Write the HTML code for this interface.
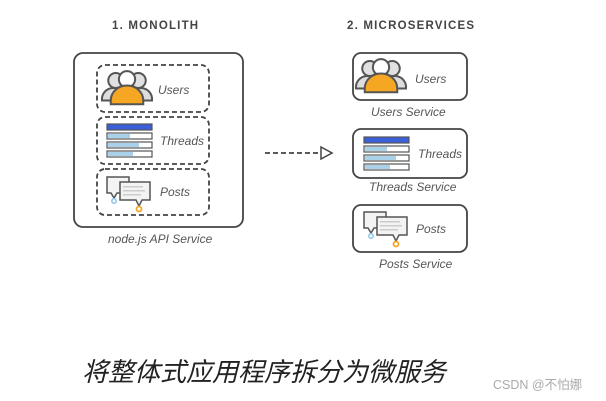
<!DOCTYPE html>
<html><head><meta charset="utf-8"><style>
html,body{margin:0;padding:0;background:#fff;width:606px;height:401px;overflow:hidden}
svg{display:block}
.t{font-family:"Liberation Sans",sans-serif;font-weight:bold;font-size:11.5px;fill:#444;letter-spacing:1.2px}
.l{font-family:"Liberation Sans",sans-serif;font-style:italic;font-size:12px;fill:#555}
</style></head><body>
<svg width="606" height="401" viewBox="0 0 606 401" xmlns="http://www.w3.org/2000/svg">
<defs>
<g id="users" transform="scale(1.25)">
 <circle cx="-9" cy="-6" r="6" fill="#e0e0e0" stroke="#555" stroke-width="1.6"/>
 <circle cx="9" cy="-6" r="6" fill="#e0e0e0" stroke="#555" stroke-width="1.6"/>
 <path d="M-20 10 a9 9 0 0 1 9-10 h0 a9 9 0 0 1 9 10 z" fill="#ddd" stroke="#555" stroke-width="1.6"/>
 <path d="M2 10 a9 9 0 0 1 9-10 a9 9 0 0 1 9 10 z" fill="#ddd" stroke="#555" stroke-width="1.6"/>
 <circle cx="0" cy="-7" r="6.5" fill="#fff" stroke="#555" stroke-width="1.6"/>
 <path d="M-13 13 v-3 a13 12 0 0 1 26 0 v3 z" fill="#f5a623" stroke="#555" stroke-width="1.6"/>
</g>
<g id="threads">
 <rect x="0" y="0" width="45" height="6" fill="#3b5fd9" stroke="#555" stroke-width="1.2"/>
 <rect x="0" y="9" width="45" height="6" fill="#fff" stroke="#555" stroke-width="1.2"/>
 <rect x="1" y="10" width="22" height="4" fill="#a9d2ea"/>
 <rect x="0" y="18" width="45" height="6" fill="#fff" stroke="#555" stroke-width="1.2"/>
 <rect x="1" y="19" width="31" height="4" fill="#a9d2ea"/>
 <rect x="0" y="27" width="45" height="6" fill="#fff" stroke="#555" stroke-width="1.2"/>
 <rect x="1" y="28" width="25" height="4" fill="#a9d2ea"/>
</g>
<g id="posts">
 <path d="M0 0 h22 v16 h-12 l-3 5 l-3 -5 h-4 z" fill="#f3f3f3" stroke="#555" stroke-width="1.5"/>
 <circle cx="7" cy="24" r="2.2" fill="#fff" stroke="#8cc4ea" stroke-width="1.5"/>
 <path d="M13 5 h30 v18 h-8 l-3 6 l-3 -6 h-16 z" fill="#f3f3f3" stroke="#555" stroke-width="1.5"/>
 <rect x="16" y="9" width="20" height="1.5" fill="#ccc"/><rect x="16" y="13" width="22" height="1.5" fill="#ccc"/><rect x="16" y="17" width="18" height="1.5" fill="#ccc"/>
 <circle cx="32" cy="32" r="2.5" fill="#fff" stroke="#f5a623" stroke-width="1.8"/>
</g>
</defs>
<text class="t" x="112" y="29">1. MONOLITH</text>
<text class="t" x="347" y="29">2. MICROSERVICES</text>
<rect x="74" y="53" width="169" height="174" rx="9" fill="#fff" stroke="#444" stroke-width="1.8"/>
<g fill="none" stroke="#444" stroke-width="1.8" stroke-dasharray="5,3">
<rect x="97" y="65" width="112" height="47" rx="8"/>
<rect x="97" y="117" width="112" height="47" rx="8"/>
<rect x="97" y="169" width="112" height="46" rx="8"/>
</g>
<use href="#users" x="127" y="88"/>
<text class="l" x="158" y="94">Users</text>
<use href="#threads" x="107" y="124"/>
<text class="l" x="160" y="145">Threads</text>
<use href="#posts" x="107" y="177"/>
<text class="l" x="160" y="196">Posts</text>
<text class="l" x="108" y="243">node.js API Service</text>

<line x1="265" y1="153" x2="320" y2="153" stroke="#444" stroke-width="1.8" stroke-dasharray="5,3"/>
<path d="M321 147 L332 153 L321 159 Z" fill="#fff" stroke="#444" stroke-width="1.5"/>

<g fill="#fff" stroke="#444" stroke-width="1.8">
<rect x="353" y="53" width="114" height="47" rx="8"/>
<rect x="353" y="129" width="114" height="49" rx="8"/>
<rect x="353" y="205" width="114" height="47" rx="8"/>
</g>
<use href="#users" x="381" y="76"/>
<text class="l" x="415" y="83">Users</text>
<text class="l" x="371" y="116">Users Service</text>
<use href="#threads" x="364" y="137"/>
<text class="l" x="418" y="158">Threads</text>
<text class="l" x="369" y="191">Threads Service</text>
<use href="#posts" x="364" y="212"/>
<text class="l" x="416" y="233">Posts</text>
<text class="l" x="379" y="268">Posts Service</text>

<text x="82" y="381" font-family="'Liberation Sans','Noto Sans CJK SC',sans-serif" font-size="26" font-style="italic" fill="#222">将整体式应用程序拆分为微服务</text>
<text x="493" y="389" font-family="'Liberation Sans','Noto Sans CJK SC',sans-serif" font-size="12.5" fill="#aaa">CSDN @不怕娜</text>
</svg>
</body></html>
